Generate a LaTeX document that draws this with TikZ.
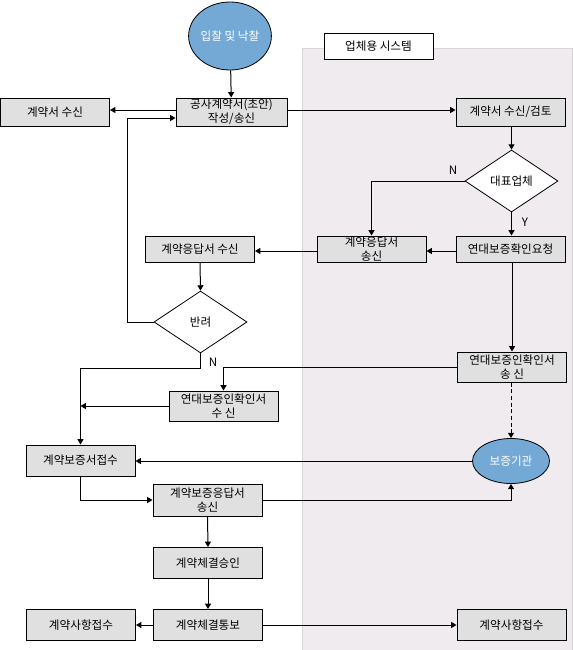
\documentclass[tikz,border=0pt]{standalone}
\usepackage{fontspec}
\setmainfont{Noto Sans CJK KR}
\usetikzlibrary{shapes.geometric,arrows.meta}
\definecolor{boxfill}{HTML}{E0E0E0}
\definecolor{bluefill}{HTML}{74A9D6}
\definecolor{panelfill}{HTML}{EFEBEF}
\definecolor{panelline}{HTML}{D8D4D8}
\begin{document}
\begin{tikzpicture}[x=0.75pt,y=-0.75pt,
  every node/.style={font=\fontsize{8.7}{10.5}\selectfont, align=center, inner sep=0pt},
  bx/.style={draw, line width=0.75pt, fill=boxfill, minimum width=81.75pt, minimum height=#1},
  bx/.default=21pt,
  dia/.style={draw, line width=0.6pt, fill=white, diamond, minimum width=69.75pt, minimum height=46.5pt},
  blob/.style={draw, line width=0.6pt, fill=bluefill, ellipse, text=white},
  arr/.style={line width=0.75pt, -{Triangle[length=4pt,width=4.5pt]}},
  lbl/.style={font=\fontsize{8.7}{10}\selectfont}
]
\useasboundingbox (0,0) rectangle (573,650);
% panel
\fill[panelfill] (302,48) rectangle (573,651);
\draw[panelline, line width=0.75pt] (302,651) -- (302,48) -- (572,48) -- (572,651);
\node[draw, line width=0.75pt, fill=white, minimum width=81.75pt, minimum height=19.5pt] (pl) at (378.5,46) {업체용 시스템};

% nodes
\node[blob, minimum width=58.5pt, minimum height=51pt] (st) at (230,36) {입찰 및 낙찰};
\node[bx] (ct) at (55,112) {계약서 수신};
\node[bx, minimum width=83.25pt] (gs) at (231.5,112) {공사계약서(초안)\\작성/송신};
\node[bx] (gt) at (510.5,112) {계약서 수신/검토};
\node[dia] (dp) at (511.5,181) {대표업체};
\node[bx=19.5pt] (rs) at (371.5,249) {계약응답서\\송신};
\node[bx=19.5pt] (yr) at (510.5,249) {연대보증확인요청};
\node[bx=19.5pt] (rr) at (200,249) {계약응답서 수신};
\node[dia] (br) at (200.5,322) {반려};
\node[bx=22.5pt] (ys) at (512,367) {연대보증인확인서\\송 신};
\node[bx=22.5pt] (yx) at (223.5,406) {연대보증인확인서\\수 신};
\node[bx=23.25pt] (bj) at (80.5,460.5) {계약보증서접수};
\node[blob, minimum width=57.75pt, minimum height=33.75pt] (org) at (511,461) {보증기관};
\node[bx=24pt] (bs) at (207.5,500) {계약보증응답서\\송신};
\node[bx=23.25pt] (ca) at (208,563) {계약체결승인};
\node[bx=23.25pt] (cn) at (208,625) {계약체결통보};
\node[bx=23.25pt] (cl) at (81,625) {계약사항접수};
\node[bx=23.25pt] (cr) at (511.5,625) {계약사항접수};

% connectors
\draw[arr] (st) -- (gs);
\draw[arr] ([yshift=1.5pt]gs.west) -- ([yshift=1.5pt]ct.east);
\draw[arr] ([yshift=1.5pt]gs.east) -- ([yshift=1.5pt]gt.west);
\draw[arr] (gt.south -| dp.north) -- (dp.north);
\draw[arr] (dp.west) -| (rs.north);
\node[lbl] (nlab) at (453,170) {N};
\draw[arr] (dp.south) -- (dp.south |- yr.north);
\node[lbl] (ylab) at (525,222) {Y};
\draw[arr] ([yshift=-1.5pt]yr.west) -- ([yshift=-1.5pt]rs.east);
\draw[arr] ([yshift=-1.5pt]rs.west) -- ([yshift=-1.5pt]rr.east);
\draw[arr] (rr.south) -- (br.north);
\coordinate (lp) at (127,118);
\draw[arr] (br.west) -| (lp) -- (lp -| gs.west);
\draw[arr] (br.south) -- ++(0,15) -| (bj.north);
\node[lbl] (n2lab) at (213,362) {N};
\draw[arr] (yr.south -| ys.north) -- (ys.north);
\draw[arr] (ys.west) -| (yx.north);
\draw[arr] (yx.west) -- (yx.west -| bj.north);
\draw[arr, dashed, dash pattern=on 3pt off 2pt] (ys.south -| org.north) -- (org.north);
\draw[arr] (org.west) -- (org.west -| bj.east);
\draw[arr] (bj.south) |- (bs.west);
\draw[arr] (bs.east) -| (org.south);
\draw[arr] (bs.south) -- (ca.north);
\draw[arr] (ca.south) -- (cn.north);
\draw[arr] (cn.west) -- (cl.east);
\draw[arr] (cn.east) -- (cr.west);
\end{tikzpicture}
\end{document}
